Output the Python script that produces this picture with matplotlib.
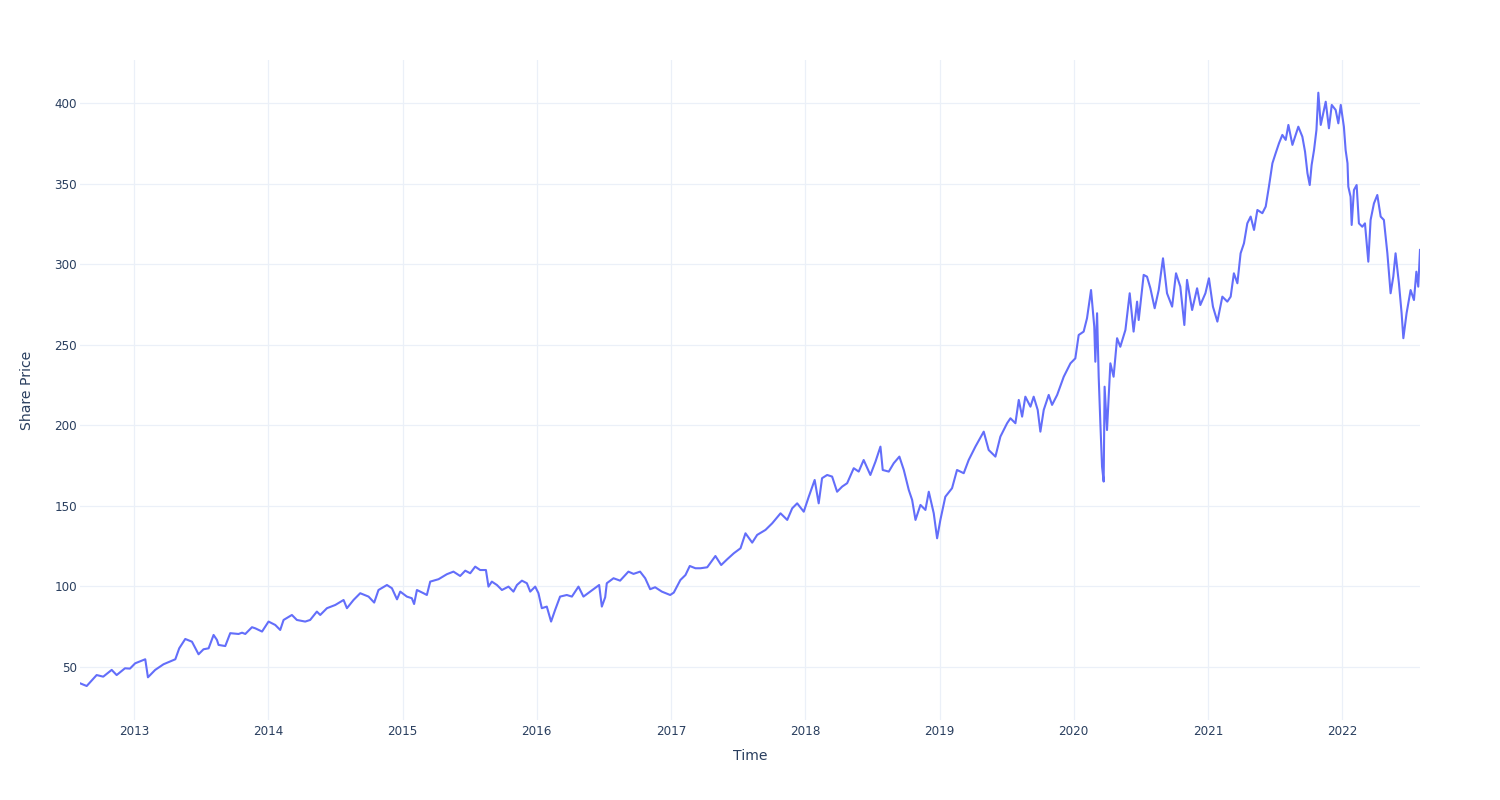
import matplotlib
matplotlib.use("Agg")
import matplotlib.pyplot as plt
import pandas as pd

# Decimal-year positions and share prices
years = [
    2012.598, 2012.648, 2012.722, 2012.771, 2012.834, 2012.871, 2012.933, 2012.970,
    2013.007, 2013.082, 2013.102, 2013.156, 2013.218, 2013.306, 2013.335, 2013.380,
    2013.430, 2013.479, 2013.516, 2013.554, 2013.591, 2013.616, 2013.628, 2013.678,
    2013.715, 2013.777, 2013.803, 2013.827, 2013.877, 2013.902,
    2013.952, 2014.001, 2014.051, 2014.088, 2014.113, 2014.175, 2014.212, 2014.274,
    2014.311, 2014.361, 2014.386, 2014.436, 2014.498, 2014.560, 2014.585, 2014.634,
    2014.684, 2014.746, 2014.788, 2014.820, 2014.883, 2014.920, 2014.958, 2014.982,
    2015.032, 2015.069, 2015.086, 2015.107, 2015.156, 2015.181, 2015.206,
    2015.268, 2015.330, 2015.379, 2015.429, 2015.467, 2015.504, 2015.541, 2015.578,
    2015.621, 2015.640, 2015.665, 2015.703, 2015.740, 2015.789, 2015.826, 2015.852,
    2015.889, 2015.926, 2015.951, 2015.988, 2016.013, 2016.038, 2016.075, 2016.107,
    2016.137, 2016.174, 2016.224, 2016.262, 2016.311, 2016.348, 2016.398, 2016.448,
    2016.465, 2016.485, 2016.510,
    2016.522, 2016.572, 2016.621, 2016.683, 2016.721, 2016.770, 2016.808, 2016.845,
    2016.882, 2016.932, 2016.994, 2017.019, 2017.068, 2017.106, 2017.138, 2017.180,
    2017.218, 2017.268, 2017.329, 2017.372, 2017.417, 2017.466, 2017.516, 2017.553,
    2017.603, 2017.640, 2017.702, 2017.752, 2017.814,
    2017.826, 2017.864, 2017.901, 2017.938, 2017.987, 2018.025, 2018.069, 2018.099,
    2018.124, 2018.162, 2018.199, 2018.236, 2018.274, 2018.311, 2018.360, 2018.397,
    2018.434, 2018.484, 2018.522, 2018.559, 2018.576, 2018.621, 2018.658, 2018.700,
    2018.733, 2018.770, 2018.795, 2018.820, 2018.857, 2018.894, 2018.919, 2018.956,
    2018.981, 2019.006, 2019.043, 2019.093,
    2019.130, 2019.180, 2019.217, 2019.267, 2019.329, 2019.366, 2019.416, 2019.453,
    2019.503, 2019.528, 2019.565, 2019.590, 2019.615, 2019.639, 2019.677, 2019.701,
    2019.731, 2019.751, 2019.776, 2019.813, 2019.838, 2019.876, 2019.925, 2019.975,
    2020.012, 2020.037, 2020.074, 2020.099, 2020.129, 2020.153, 2020.161, 2020.174,
    2020.186, 2020.198, 2020.211, 2020.223, 2020.230, 2020.248, 2020.273, 2020.297,
    2020.323, 2020.347, 2020.385, 2020.417,
    2020.446, 2020.472, 2020.484, 2020.521, 2020.546, 2020.571, 2020.603, 2020.633,
    2020.665, 2020.695, 2020.733, 2020.762, 2020.794, 2020.824, 2020.844, 2020.882,
    2020.919, 2020.943, 2020.981, 2021.005, 2021.035, 2021.068, 2021.105, 2021.142,
    2021.167, 2021.191, 2021.217, 2021.241, 2021.266, 2021.291, 2021.316, 2021.341,
    2021.366, 2021.403, 2021.428, 2021.452, 2021.478, 2021.502, 2021.527, 2021.552,
    2021.577, 2021.597, 2021.627, 2021.651, 2021.671, 2021.701, 2021.721,
    2021.739, 2021.756, 2021.770, 2021.788, 2021.806, 2021.820, 2021.838, 2021.875,
    2021.899, 2021.920, 2021.949, 2021.969, 2021.987, 2022.011, 2022.024, 2022.038,
    2022.044, 2022.061, 2022.069, 2022.086, 2022.106, 2022.123, 2022.148, 2022.168,
    2022.193, 2022.210, 2022.235, 2022.260, 2022.285, 2022.309, 2022.335, 2022.359,
    2022.379, 2022.396, 2022.421, 2022.441, 2022.454, 2022.478, 2022.508, 2022.533,
    2022.551, 2022.565, 2022.578,
]

prices = [
    39.9, 38.2, 45.0, 44.0, 48.2, 45.0, 49.2, 49.0,
    52.3, 54.8, 43.6, 48.2, 51.7, 54.8, 61.6, 67.4,
    65.7, 57.9, 61.0, 61.6, 69.9, 66.8, 63.7, 63.0,
    71.0, 70.5, 71.3, 70.5, 74.7, 74.0,
    72.0, 78.2, 76.1, 73.0, 79.2, 82.3, 79.2, 78.2,
    79.2, 84.4, 82.3, 86.5, 88.5, 91.6, 86.5, 91.6,
    95.8, 93.7, 90.0, 97.8, 100.9, 98.9, 92.0, 96.8,
    93.7, 92.7, 89.1, 97.8, 95.8, 94.7, 103.0,
    104.5, 107.6, 109.2, 106.5, 109.8, 108.2, 112.3, 110.2,
    110.2, 99.9, 103.0, 100.9, 97.8, 99.9, 96.8, 100.9,
    103.6, 102.0, 96.8, 99.9, 95.8, 86.5, 87.5, 78.2,
    85.4, 93.7, 94.7, 93.7, 99.9, 93.7, 96.8, 99.9,
    100.9, 87.5, 93.3,
    102.0, 105.1, 103.6, 109.2, 107.8, 109.2, 105.1, 98.3,
    99.5, 96.8, 94.7, 96.2, 104.0, 107.1, 112.7, 111.3,
    111.3, 111.9, 118.9, 113.3, 116.9, 120.6, 123.7, 133.0,
    127.2, 132.0, 135.1, 139.2, 145.4,
    144.4, 141.3, 148.5, 151.6, 146.4, 155.7, 166.1, 151.6,
    167.2, 169.2, 168.2, 158.8, 162.0, 164.1, 173.4, 171.3,
    178.5, 169.2, 177.5, 186.8, 172.3, 171.3, 176.5, 180.6,
    172.3, 159.9, 153.7, 141.3, 150.6, 147.5, 158.8, 145.4,
    129.9, 141.3, 155.7, 161.0,
    172.3, 170.3, 178.5, 186.8, 196.1, 184.7, 180.6, 193.0,
    201.3, 204.4, 201.3, 215.8, 205.4, 217.8, 211.6, 217.8,
    209.6, 196.1, 209.6, 218.9, 212.7, 218.9, 230.2, 238.5,
    241.6, 256.1, 258.2, 266.5, 284.0, 261.3, 239.5, 269.6,
    230.2, 202.3, 174.4, 165.1, 224.0, 197.1, 238.5, 230.2,
    254.1, 248.8, 259.2, 282.0,
    258.2, 276.8, 265.4, 293.4, 292.3, 285.1, 272.7, 284.0,
    303.7, 282.0, 273.7, 294.4, 286.1, 262.3, 290.3, 271.6,
    285.1, 274.7, 282.0, 291.3, 273.7, 264.4, 279.9, 276.8,
    279.9, 294.4, 288.2, 306.8, 313.0, 325.4, 329.6, 321.3,
    333.7, 331.7, 335.8, 348.2, 362.7, 368.9, 375.1, 380.3,
    377.2, 386.5, 374.1, 380.3, 385.4, 379.2, 369.9,
    356.5, 349.2, 361.6, 370.9, 383.4, 406.5, 386.5, 400.9,
    384.4, 398.9, 395.8, 387.5, 398.9, 385.4, 370.9, 362.7,
    348.2, 341.9, 324.4, 346.1, 349.2, 325.4, 323.3, 325.4,
    301.6, 327.5, 337.8, 343.0, 329.6, 327.5, 306.8, 282.0,
    292.3, 306.8, 288.2, 269.6, 254.1, 269.6, 284.0, 277.8,
    295.4, 286.1, 308.9,
]

y_ticks = [50, 100, 150, 200, 250, 300, 350, 400]
x_tick_years = list(range(2013, 2023))
x_title = "Time"
y_title = "Share Price"


def to_timestamp(y):
    base = int(y)
    return pd.Timestamp(f"{base}-01-01") + pd.Timedelta(days=(y - base) * 365.25)


dates = [to_timestamp(y) for y in years]

text_color = "#2a3f5f"
grid_color = "#EBF0F8"
line_color = "#636EFA"

plt.rcParams["font.family"] = ["DejaVu Sans"]

fig = plt.figure(figsize=(15, 8), dpi=100)
ax = fig.add_axes([80 / 1500, 1 - 720 / 800, 1340 / 1500, 660 / 800])

ax.plot(dates, prices, color=line_color, linewidth=1.5, zorder=3)

ax.set_xlim(dates[0], dates[-1])
ax.set_ylim(17.1, 426.8)

ax.set_yticks(y_ticks)
ax.set_yticklabels([str(t) for t in y_ticks])
ax.set_xticks([pd.Timestamp(f"{yr}-01-01") for yr in x_tick_years])
ax.set_xticklabels([str(yr) for yr in x_tick_years])

ax.grid(True, color=grid_color, linewidth=0.9, zorder=0)
ax.set_axisbelow(True)
for s in ax.spines.values():
    s.set_visible(False)
ax.tick_params(axis="both", length=0, labelsize=8.64, labelcolor=text_color)
ax.tick_params(axis="x", pad=3.5)
ax.tick_params(axis="y", pad=2)

fig.text(0.5, 1 - 756 / 800, x_title, ha="center", va="center",
         fontsize=10.08, color=text_color)
fig.text(27 / 1500, 1 - 390 / 800, y_title, ha="center", va="center",
         rotation=90, fontsize=10.08, color=text_color)

fig.savefig("out.png", dpi=100, facecolor="white")
